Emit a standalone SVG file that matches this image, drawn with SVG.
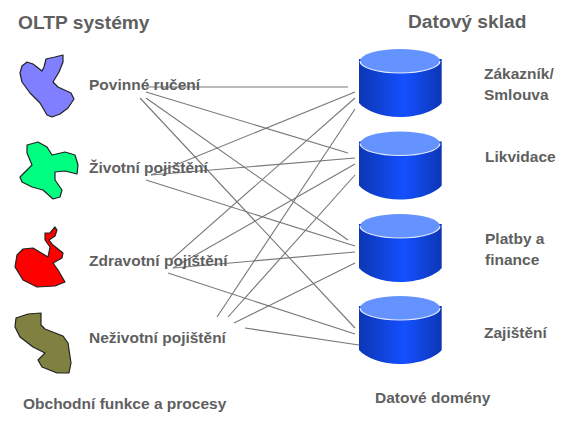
<svg xmlns="http://www.w3.org/2000/svg" width="578" height="427" viewBox="0 0 578 427">
<style>
text{font-family:"Liberation Sans",Arial,sans-serif;font-weight:bold;font-size:15.500px;fill:#5f5f5f}
.h{font-size:19.200px}
.b{stroke:#222;stroke-width:1.200;stroke-linejoin:round}
#connectors line{stroke:#777;stroke-width:1.100}
.body{fill:url(#cyl)}
.top{fill:#6492ff}
.rim{fill:none;stroke:#e4ebff;stroke-width:1.200}
</style>
<defs>
<linearGradient id="cyl"><stop offset="0" stop-color="#0c36b4"/><stop offset=".55" stop-color="#1450ff"/><stop offset="1" stop-color="#0c36b4"/></linearGradient>
<g id="db"><path class="body" d="M359 59V103C366 111 382 117 400 117S435 111 441.700 103V59Z"/><ellipse class="top" cx="400" cy="61" rx="40" ry="12"/><path class="rim" d="M360 61A40 12 0 0 0 440 61"/></g>
</defs>
<rect width="578" height="427" fill="#fff"/>
<g id="connectors">
<line x1="146" y1="87" x2="348" y2="87"/>
<line x1="146" y1="92" x2="348" y2="153"/>
<line x1="146" y1="98" x2="348" y2="240"/>
<line x1="140" y1="98" x2="355" y2="328"/>
<line x1="151" y1="175" x2="355" y2="92"/>
<line x1="151" y1="175" x2="355" y2="158"/>
<line x1="146" y1="180" x2="355" y2="246"/>
<line x1="172" y1="259" x2="355" y2="98"/>
<line x1="173" y1="268" x2="355" y2="164"/>
<line x1="173" y1="268" x2="355" y2="252"/>
<line x1="168" y1="273" x2="355" y2="334"/>
<line x1="217" y1="317" x2="355" y2="109"/>
<line x1="228" y1="317" x2="355" y2="175"/>
<line x1="234" y1="323" x2="355" y2="263"/>
<line x1="245" y1="328" x2="359" y2="345"/>
</g>
<g id="blob-povinne"><polygon class="b" fill="#7f7fff" points="20,73 22,66 27,62 33,64 42,71 44,67 46,59 55,57 63,55 63,62 59,72 53,82 58,87 71,93 74,99 68,108 60,114 52,117 47,115 40,103 30,93 22,82"/></g>
<g id="blob-zivotni"><polygon class="b" fill="#00ff80" points="27,145 38,142 47,147 52,155 65,152 75,155 78,165 77,174 65,171 55,172 55,180 62,190 60,197 53,199 43,190 32,187 22,182 20,177 32,165 27,153"/></g>
<g id="blob-zdravotni"><polygon class="b" fill="#ff0000" points="45,233 50,233 55,227 57,230 55,236 49,240 53,245 63,253 62,258 53,263 58,270 65,282 55,286 37,287 23,280 15,267 17,255 23,249 33,248 48,257 50,247 45,240"/></g>
<g id="blob-nezivotni"><polygon class="b" fill="#808040" points="16,318 28,314 41,313 41,325 45,329 63,336 68,343 71,363 69,373 57,373 42,367 38,360 45,353 33,347 20,337 15,327"/></g>
<g id="db1"><use href="#db"/></g>
<g id="db2"><use href="#db" y="82.500"/></g>
<g id="db3"><use href="#db" y="165"/></g>
<g id="db4"><use href="#db" y="247"/></g>
<text class="h" x="18" y="29">OLTP systémy</text>
<text class="h" x="408" y="28">Datový sklad</text>
<text x="89" y="90">Povinné ručení</text>
<text x="89" y="173">Životní pojištění</text>
<text x="89" y="266">Zdravotní pojištění</text>
<text x="89" y="343">Neživotní pojištění</text>
<text x="484" y="79">Zákazník/</text>
<text x="484" y="100">Smlouva</text>
<text x="485" y="162">Likvidace</text>
<text x="485" y="244">Platby a</text>
<text x="485" y="265">finance</text>
<text x="484" y="338">Zajištění</text>
<text x="23" y="409">Obchodní funkce a procesy</text>
<text x="375" y="403">Datové domény</text>
</svg>
